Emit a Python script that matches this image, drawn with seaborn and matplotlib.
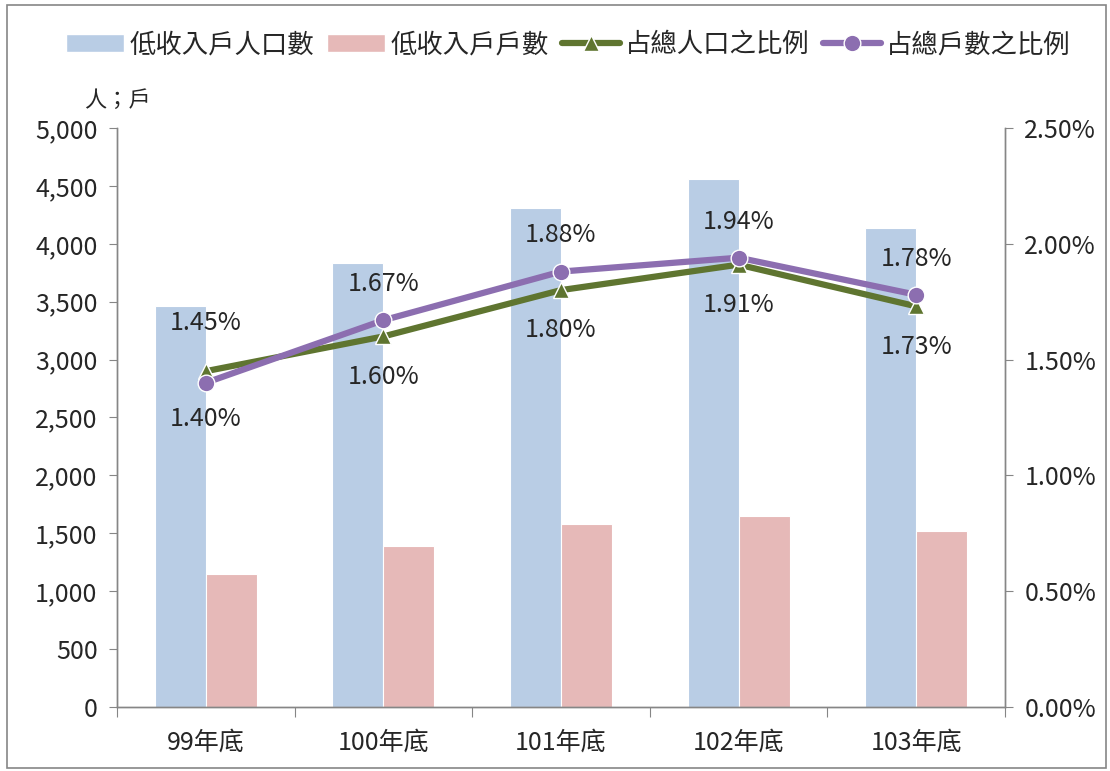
import numpy as np
import pandas as pd
import matplotlib.pyplot as plt
import seaborn as sns
from matplotlib.patches import Patch, Rectangle
from matplotlib.lines import Line2D
from matplotlib.ticker import FuncFormatter

years = ['99年底', '100年底', '101年底', '102年底', '103年底']
people = [3460, 3835, 4310, 4560, 4135]
households = [1150, 1390, 1580, 1650, 1520]
pct_people = [1.45, 1.60, 1.80, 1.91, 1.73]
pct_households = [1.40, 1.67, 1.88, 1.94, 1.78]

# label placement for each point: above (+1) or below (-1)
pos_people = [1, -1, -1, -1, -1]
pos_households = [-1, 1, 1, 1, 1]

sns.set_style('white')
plt.rcParams['font.family'] = ['Noto Sans CJK TC', 'DejaVu Sans']

blue = '#B9CDE5'
pink = '#E6B9B8'
green = '#5F7530'
purple = '#8C6EB0'
grey = '#868686'

df = pd.DataFrame({'年': years * 2,
                   '值': people + households,
                   '類別': ['低收入戶人口數'] * 5 + ['低收入戶戶數'] * 5})

fig = plt.figure(figsize=(11.1, 7.71), dpi=100)
ax = fig.add_axes([0.1054, 0.083, 0.8, 0.751])
sns.barplot(data=df, x='年', y='值', hue='類別', palette=[blue, pink], width=0.575,
            saturation=1, edgecolor='white', linewidth=0.8, ax=ax, legend=False)
ax.set_xlim(-0.5, 4.5)
ax.set_ylim(0, 5000)
ax.set_yticks(range(0, 5001, 500))
ax.yaxis.set_major_formatter(FuncFormatter(lambda v, p: f'{int(v):,}'))
ax.set_xlabel('')
ax.set_ylabel('')
ax.set_xticks(np.arange(-0.5, 5, 1), minor=False)
ax.set_xticklabels([''] * 6)
ax.set_xticks(range(5), minor=True)
ax.set_xticklabels(years, minor=True)
ax.tick_params(axis='x', which='major', length=7, color=grey, direction='out', bottom=True)
ax.tick_params(axis='x', which='minor', length=0, labelsize=18, pad=16)
ax.tick_params(axis='y', length=6, color=grey, direction='out', left=True, labelsize=18, pad=8)

ax2 = ax.twinx()
x = np.arange(len(years))
sns.lineplot(x=x, y=pct_people, color=green, lw=4.5, marker='^', markersize=12,
             markeredgecolor='white', markeredgewidth=1, ax=ax2, zorder=3)
sns.lineplot(x=x, y=pct_households, color=purple, lw=4.5, marker='o', markersize=12,
             markeredgecolor='white', markeredgewidth=1, ax=ax2, zorder=4)
ax2.set_ylim(0, 2.5)
ax2.set_yticks(np.arange(0, 2.51, 0.5))
ax2.yaxis.set_major_formatter(FuncFormatter(lambda v, p: f'{v:.2f}%'))
ax2.tick_params(axis='y', length=6, color=grey, direction='out', right=True, labelsize=18, pad=8)
ax2.set_xlim(-0.5, 4.5)

for i in range(5):
    off = 35 if pos_people[i] > 0 else -29
    ax2.annotate(f'{pct_people[i]:.2f}%', (x[i], pct_people[i]), xytext=(0, off),
                 textcoords='offset points', ha='center', va='center', fontsize=18)
    ax2.annotate(f'{pct_households[i]:.2f}%', (x[i], pct_households[i]), xytext=(0, 26 * pos_households[i]),
                 textcoords='offset points', ha='center', va='center', fontsize=18)

for a in (ax, ax2):
    a.spines['top'].set_visible(False)
    for s in ('left', 'right', 'bottom'):
        a.spines[s].set_color(grey)
        a.spines[s].set_linewidth(1)

ax.text(0.0, 1.028, '人；戶', transform=ax.transAxes, fontsize=16, ha='center', va='bottom')

handles = [Patch(facecolor=blue, edgecolor='white'),
           Patch(facecolor=pink, edgecolor='white'),
           Line2D([], [], color=green, lw=4.5, marker='^', markersize=12, markeredgecolor='white'),
           Line2D([], [], color=purple, lw=4.5, marker='o', markersize=12, markeredgecolor='white')]
labels = ['低收入戶人口數', '低收入戶戶數', '占總人口之比例', '占總戶數之比例']
fig.legend(handles, labels, loc='center', bbox_to_anchor=(0.512, 0.942), ncol=4, frameon=False,
           fontsize=19, handlelength=2.2, columnspacing=0.5, handletextpad=0.2)

fig.patches.append(Rectangle((0.006, 0.004), 0.99, 0.99, transform=fig.transFigure, fill=False,
                             edgecolor=grey, lw=1.2))

fig.savefig('out.png', dpi=100)
